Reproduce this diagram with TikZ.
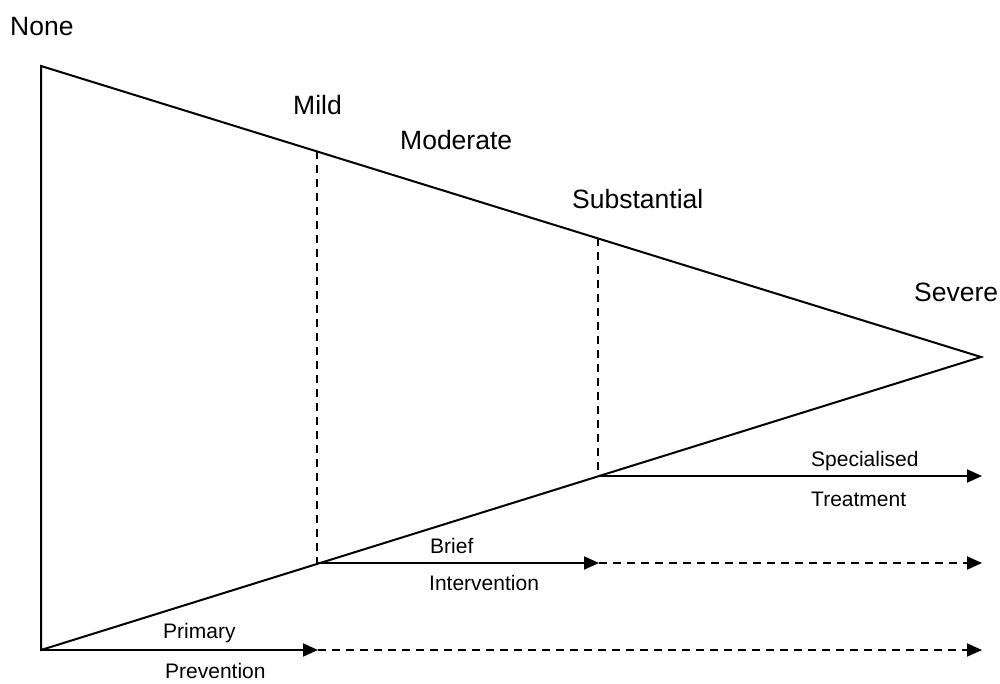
\documentclass[tikz,border=0pt]{standalone}
\usepackage{fontspec}
\setmainfont{Liberation Sans}
\usepackage{tikz}
\usetikzlibrary{arrows.meta}
\tikzset{
  edge/.style={line width=2pt},
  guide/.style={line width=2pt, dash pattern=on 8pt off 6pt},
  tip/.style={-{Triangle[length=15pt,width=13pt]}},
  level/.style={anchor=base west, inner sep=0pt, font=\fontsize{26.5}{30}\selectfont},
  care/.style={anchor=base west, inner sep=0pt, font=\fontsize{21}{25}\selectfont}
}

\begin{document}
\begin{tikzpicture}[x=1pt,y=-1pt]
    \useasboundingbox (0,0) rectangle (1000,684);

    % Triangle
    \coordinate (top) at (41,66);
    \coordinate (base) at (41,650);
    \coordinate (apex) at (981,357);
    \draw[edge, line join=miter] (apex) -- (top) -- (base) -- cycle;

    % Cut points
    \coordinate (mildtop) at (317,151);
    \coordinate (mildbot) at (317,563);
    \coordinate (subtop) at (598,238);
    \coordinate (subbot) at (598,476);
    \draw[guide] (mildtop) -- (mildbot);
    \draw[guide] (subtop) -- (subbot);

    % Arrows
    \coordinate (primend) at (318,650);
    \coordinate (briefend) at (599,563);
    \coordinate (endP) at (982,650);
    \coordinate (endB) at (982,563);
    \coordinate (endS) at (982,476);
    \draw[edge, tip] (base) -- (primend);
    \draw[guide, tip] (primend) -- (endP);
    \draw[edge, tip] (mildbot) -- (briefend);
    \draw[guide, tip] (briefend) -- (endB);
    \draw[edge, tip] (subbot) -- (endS);

    % Severity labels
    \node[level] (none) at (10,35.5) {None};
    \node[level] (mild) at (293,115) {Mild};
    \node[level] (moderate) at (400,150) {Moderate};
    \node[level] (substantial) at (572,209) {Substantial};
    \node[level] (severe) at (914,301.5) {Severe};

    % Care labels
    \node[care] (primary) at (163,638) {Primary};
    \node[care] (prevention) at (165,678) {Prevention};
    \node[care] (brief) at (430,553) {Brief};
    \node[care] (intervention) at (429,590.5) {Intervention};
    \node[care] (specialised) at (811,466.5) {Specialised};
    \node[care] (treatment) at (811,506.5) {Treatment};
\end{tikzpicture}
\end{document}
